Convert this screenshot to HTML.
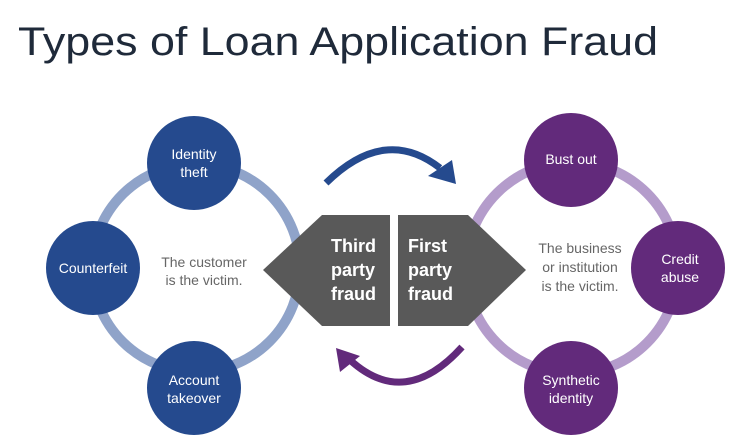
<!DOCTYPE html>
<html><head><style>
body{margin:0;background:#fff;}
svg{display:block;}
text{font-family:"Liberation Sans",sans-serif;}
</style></head><body>
<svg width="745" height="441" viewBox="0 0 745 441" xmlns="http://www.w3.org/2000/svg">
<text x="18" y="55" font-size="40" fill="#1f2a3a" textLength="640" lengthAdjust="spacingAndGlyphs">Types of Loan Application Fraud</text>
<circle cx="196" cy="268" r="104" fill="none" stroke="#8fa3c9" stroke-width="10"/>
<circle cx="572" cy="268" r="106" fill="none" stroke="#b49ccb" stroke-width="10"/>
<polygon points="263,270 322,215 390,215 390,326 322,326" fill="#595959"/>
<polygon points="398,215 468,215 526,270 468,326 398,326" fill="#595959"/>
<g fill="#254a8e">
<circle cx="194" cy="163" r="47"/><circle cx="93" cy="268" r="47"/><circle cx="194" cy="388" r="47"/>
</g>
<g fill="#622a7b">
<circle cx="571" cy="160" r="47"/><circle cx="678" cy="268" r="47"/><circle cx="571" cy="388" r="47"/>
</g>
<path d="M326,183 Q385,125 440,168" fill="none" stroke="#254a8e" stroke-width="7"/>
<polygon points="428,176 452,160 456,184" fill="#254a8e"/>
<path d="M462,347 Q405,410 350,360" fill="none" stroke="#622a7b" stroke-width="7"/>
<polygon points="336,348 340,372 360,356" fill="#622a7b"/>
<g fill="#fff" font-size="14" text-anchor="middle">
<text x="194" y="159">Identity</text><text x="194" y="177">theft</text>
<text x="93" y="273">Counterfeit</text>
<text x="194" y="385">Account</text><text x="194" y="403">takeover</text>
<text x="571" y="164">Bust out</text>
<text x="680" y="264">Credit</text><text x="680" y="282">abuse</text>
<text x="571" y="385">Synthetic</text><text x="571" y="403">identity</text>
</g>
<g fill="#fff" font-size="18" font-weight="bold">
<text x="331" y="252">Third</text><text x="331" y="276">party</text><text x="331" y="300">fraud</text>
<text x="408" y="252">First</text><text x="408" y="276">party</text><text x="408" y="300">fraud</text>
</g>
<g fill="#666" font-size="14" text-anchor="middle">
<text x="204" y="267">The customer</text><text x="204" y="285">is the victim.</text>
<text x="580" y="253">The business</text><text x="580" y="272">or institution</text><text x="580" y="291">is the victim.</text>
</g>
</svg>
</body></html>
